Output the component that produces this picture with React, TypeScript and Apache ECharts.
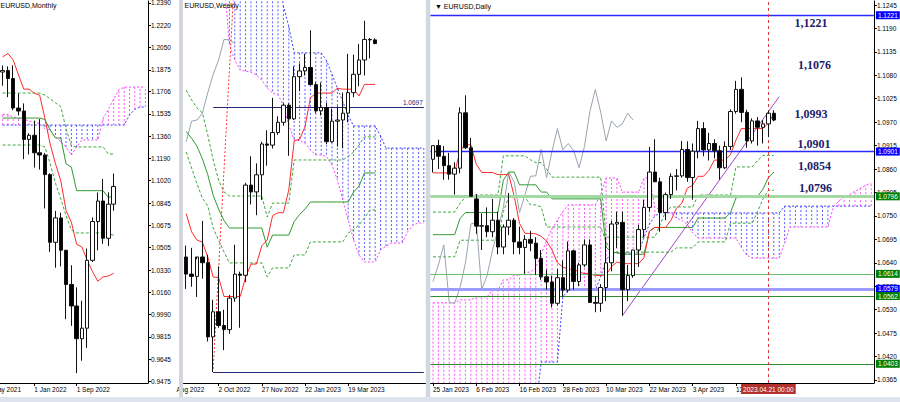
import { useEffect, useRef } from 'react';
import * as echarts from 'echarts';

const SANS = '"Liberation Sans", Arial, "DejaVu Sans", sans-serif';
const SERIF = '"Liberation Serif", "Times New Roman", serif';

// ================= MONTHLY =================
const monthlyCategories = ['1 Jul 2021','1 Aug 2021','1 Sep 2021','1 Oct 2021','1 Nov 2021','1 Dec 2021','1 Jan 2022','1 Feb 2022','1 Mar 2022','1 Apr 2022','1 May 2022','1 Jun 2022','1 Jul 2022','1 Aug 2022','1 Sep 2022','1 Oct 2022','1 Nov 2022','1 Dec 2022','1 Jan 2023','1 Feb 2023','1 Mar 2023','1 Apr 2023','1 May 2023','1 Jun 2023','1 Jul 2023','1 Aug 2023','1 Sep 2023','1 Oct 2023'];
const monthlyLabelIndex = [6, 14];
// [open, high, low, close]
const monthlyOHLC = [
  [1.1858,1.1909,1.1752,1.1870],[1.1870,1.1901,1.1664,1.1808],[1.1808,1.1909,1.1563,1.1580],[1.1580,1.1692,1.1524,1.1557],
  [1.1557,1.1616,1.1186,1.1338],[1.1338,1.1386,1.1222,1.1370],[1.1370,1.1483,1.1121,1.1235],[1.1235,1.1495,1.1106,1.1218],
  [1.1218,1.1233,1.0806,1.1067],[1.1067,1.1076,1.0471,1.0545],[1.0545,1.0787,1.0349,1.0733],[1.0733,1.0773,1.0359,1.0484],
  [1.0484,1.0486,0.9952,1.0220],[1.0220,1.0368,0.9901,1.0054],[1.0054,1.0198,0.9536,0.9802],[0.9802,1.0094,0.9632,0.9883],
  [0.9883,1.0497,0.9731,1.0406],[1.0406,1.0736,1.0393,1.0705],[1.0705,1.0929,1.0483,1.0863],[1.0863,1.1033,1.0533,1.0576],
  [1.0576,1.0930,1.0516,1.0839],[1.0839,1.1075,1.0788,1.0975]
];
const monthlyTenkan = [1.1975,1.2000,1.1950,1.1835,1.1726,1.1726,1.1694,1.1680,1.1500,1.1300,1.1150,1.1020,1.0790,1.0700,1.0530,1.0509,1.0405,1.0320,1.0245,1.0278,1.0285,1.0306];
const monthlyKijun = [1.1503,1.1503,1.1503,1.1503,1.1503,1.1503,1.1503,1.1503,1.1492,1.1410,1.1349,1.1349,1.1150,1.1125,1.0943,1.0943,1.0943,1.0943,1.0943,1.0943,1.0890,1.0901];
const monthlyDashA = [1.1696,1.1696,1.1696,1.1696,1.1696,1.1696,1.1696,1.1696,1.1680,1.1650,1.1620,1.1590,1.1420,1.1290,1.1280,1.1280,1.1280,1.1280,1.1280,1.1280,1.1226,1.1226];
const monthlyDashB = [1.1295,1.1295,1.1295,1.1295,1.1295,1.1295,1.1295,1.1295,1.1280,1.1150,1.1000,1.0880,1.0750,1.0640,1.0617,1.0617,1.0617,1.0617,1.0617,1.0617,1.0610,1.0600];
const monthlySpanA = [1.1449,1.1449,1.1449,1.1449,1.1449,1.1449,1.1449,1.1449,1.1449,1.1449,1.1449,1.1449,1.1449,1.1449,1.1449,1.1449,1.1449,1.1449,1.1449,1.1449,1.1449,1.1449,1.1449,1.1449,1.1526,1.1570,1.1588,1.1588];
const monthlySpanB = [1.1530,1.1530,1.1510,1.1500,1.1495,1.1480,1.1470,1.1460,1.1420,1.1410,1.1357,1.1320,1.1280,1.1218,1.1280,1.1334,1.1334,1.1334,1.1334,1.1500,1.1570,1.1650,1.1720,1.1742,1.1742,1.1742,1.1742,1.1742];
const monthlyTicks = [0.9475,0.9645,0.9815,0.9990,1.0160,1.0330,1.0505,1.0675,1.0845,1.1020,1.1190,1.1360,1.1535,1.1706,1.1875,1.2050,1.2220,1.2390];
const monthlyPrice = 1.0975;

// ================= WEEKLY =================
const weeklyCategories = ['21 Aug 2022','28 Aug 2022','4 Sep 2022','11 Sep 2022','18 Sep 2022','25 Sep 2022','2 Oct 2022','9 Oct 2022','16 Oct 2022','23 Oct 2022','30 Oct 2022','6 Nov 2022','13 Nov 2022','20 Nov 2022','27 Nov 2022','4 Dec 2022','11 Dec 2022','18 Dec 2022','25 Dec 2022','1 Jan 2023','8 Jan 2023','15 Jan 2023','22 Jan 2023','29 Jan 2023','5 Feb 2023','12 Feb 2023','19 Feb 2023','26 Feb 2023','5 Mar 2023','12 Mar 2023','19 Mar 2023','26 Mar 2023','2 Apr 2023','9 Apr 2023','16 Apr 2023','23 Apr 2023','30 Apr 2023','7 May 2023','14 May 2023','21 May 2023','28 May 2023','4 Jun 2023','11 Jun 2023','18 Jun 2023','25 Jun 2023'];
const weeklyLabelIndex = [6, 14, 22, 30];
const weeklyOHLC = [
  [1.0040,1.0090,0.9900,0.9965],[0.9965,1.0080,0.9910,0.9955],[0.9955,1.0030,0.9865,1.0040],[1.0040,1.0198,0.9945,1.0015],
  [1.0015,1.0050,0.9670,0.9690],[0.9690,0.9853,0.9536,0.9800],[0.9800,0.9999,0.9730,0.9740],[0.9740,0.9809,0.9632,0.9722],
  [0.9722,0.9874,0.9704,0.9860],[0.9860,1.0094,0.9844,0.9965],[0.9965,0.9976,0.9730,0.9960],[0.9960,1.0365,0.9930,1.0355],
  [1.0355,1.0481,1.0270,1.0325],[1.0325,1.0450,1.0223,1.0400],[1.0400,1.0545,1.0290,1.0535],[1.0535,1.0595,1.0440,1.0530],
  [1.0530,1.0737,1.0515,1.0585],[1.0585,1.0656,1.0575,1.0630],[1.0630,1.0713,1.0615,1.0705],[1.0705,1.0713,1.0483,1.0645],
  [1.0645,1.0875,1.0640,1.0830],[1.0830,1.0888,1.0766,1.0855],[1.0855,1.0929,1.0835,1.0870],[1.0870,1.1033,1.0800,1.0795],
  [1.0795,1.0805,1.0670,1.0680],[1.0680,1.0804,1.0660,1.0695],[1.0695,1.0715,1.0535,1.0545],[1.0545,1.0690,1.0540,1.0635],
  [1.0635,1.0700,1.0524,1.0640],[1.0640,1.0760,1.0516,1.0670],[1.0670,1.0930,1.0630,1.0760],[1.0760,1.0926,1.0740,1.0840],
  [1.0840,1.0973,1.0788,1.0903],[1.0903,1.1075,1.0835,1.0993],[1.0993,1.0999,1.0910,1.0991],[1.0991,1.0998,1.0972,1.0975]
];
const weeklyTenkan = [1.0230,1.0150,1.0114,1.0105,1.0040,0.9952,0.9950,0.9867,0.9867,0.9867,0.9867,0.9951,1.0009,1.0009,1.0089,1.0114,1.0221,1.0234,1.0234,1.0334,1.0549,1.0556,1.0610,1.0737,1.0758,1.0758,1.0758,1.0758,1.0779,1.0775,1.0775,1.0775,1.0745,1.0796,1.0796,1.0796];
const weeklyKijun = [1.0590,1.0560,1.0525,1.0470,1.0400,1.0310,1.0250,1.0200,1.0167,1.0167,1.0167,1.0167,1.0167,1.0167,1.0167,1.0083,1.0136,1.0136,1.0136,1.0136,1.0195,1.0226,1.0250,1.0281,1.0281,1.0281,1.0281,1.0281,1.0281,1.0281,1.0281,1.0325,1.0350,1.0408,1.0408,1.0408];
const weeklyDashA = [1.0771,1.0728,1.0693,1.0671,1.0574,1.0465,1.0377,1.0325,1.0307,1.0307,1.0307,1.0307,1.0307,1.0307,1.0307,1.0215,1.0276,1.0276,1.0276,1.0276,1.0465,1.0465,1.0465,1.0465,1.0465,1.0465,1.0465,1.0465,1.0465,1.0465,1.0480,1.0500,1.0530,1.0566,1.0566,1.0566];
const weeklyDashB = [1.0500,1.0430,1.0360,1.0298,1.0263,1.0167,1.0114,1.0062,1.0014,1.0014,1.0014,1.0014,1.0014,1.0014,1.0014,0.9953,0.9992,0.9992,0.9992,0.9992,1.0049,1.0049,1.0049,1.0106,1.0106,1.0106,1.0106,1.0106,1.0106,1.0106,1.0145,1.0160,1.0180,1.0210,1.0246,1.0246];
const weeklyChikou = [1.0545,1.0635,1.0640,1.0670,1.0760,1.0840,1.0903,1.0993,1.0991,1.0975];
const weeklySpanA = [1.1300,1.1300,1.1300,1.1300,1.1300,1.1300,1.1300,1.1300,1.1300,1.1300,1.1300,1.1300,1.1300,1.1300,1.1300,1.1300,1.1300,1.1300,1.1140,1.1050,1.0934,1.0934,1.0934,1.0934,1.0934,1.0934,1.0900,1.0840,1.0780,1.0720,1.0660,1.0614,1.0614,1.0614,1.0614,1.0614,1.0570,1.0517,1.0517,1.0517,1.0517,1.0517,1.0517,1.0517,1.0517];
const weeklySpanB = [1.1250,1.1250,1.1250,1.1250,1.1250,1.1250,1.1250,1.1250,1.0969,1.0903,1.0859,1.0854,1.0850,1.0837,1.0815,1.0780,1.0758,1.0750,1.0706,1.0618,1.0552,1.0550,1.0539,1.0509,1.0487,1.0487,1.0480,1.0443,1.0377,1.0290,1.0202,1.0115,1.0049,1.0018,1.0018,1.0018,1.0071,1.0088,1.0101,1.0101,1.0101,1.0150,1.0180,1.0189,1.0189];
const weeklyLevel = 1.0697;
const weeklyLow = 0.9536;
const weeklyLevelFrom = 5;
const weeklyRedLine = [[5, 0.9550], [9, 1.1293]];

// ================= DAILY =================
const dailyCategories = ['25 Jan 2023','26 Jan 2023','27 Jan 2023','30 Jan 2023','31 Jan 2023',
'1 Feb 2023','2 Feb 2023','3 Feb 2023','6 Feb 2023','7 Feb 2023','8 Feb 2023','9 Feb 2023','10 Feb 2023',
'13 Feb 2023','14 Feb 2023','15 Feb 2023','16 Feb 2023','17 Feb 2023','20 Feb 2023','21 Feb 2023','22 Feb 2023','23 Feb 2023','24 Feb 2023','27 Feb 2023','28 Feb 2023',
'1 Mar 2023','2 Mar 2023','3 Mar 2023','6 Mar 2023','7 Mar 2023','8 Mar 2023','9 Mar 2023','10 Mar 2023','13 Mar 2023','14 Mar 2023','15 Mar 2023','16 Mar 2023','17 Mar 2023','20 Mar 2023','21 Mar 2023','22 Mar 2023','23 Mar 2023','24 Mar 2023','27 Mar 2023','28 Mar 2023','29 Mar 2023','30 Mar 2023','31 Mar 2023',
'3 Apr 2023','4 Apr 2023','5 Apr 2023','6 Apr 2023','7 Apr 2023','10 Apr 2023','11 Apr 2023','12 Apr 2023','13 Apr 2023','14 Apr 2023','17 Apr 2023','18 Apr 2023','19 Apr 2023','20 Apr 2023','21 Apr 2023','24 Apr 2023',
'25 Apr 2023','26 Apr 2023','27 Apr 2023','28 Apr 2023','1 May 2023','2 May 2023','3 May 2023','4 May 2023','5 May 2023','8 May 2023','9 May 2023','10 May 2023','11 May 2023','12 May 2023','15 May 2023','16 May 2023','17 May 2023','18 May 2023'];
const dailyLabelIndex = [0, 8, 16, 24, 32, 40, 48, 56];
const dailyOHLC = [
  [1.0883,1.0915,1.0852,1.0915],[1.0915,1.0929,1.0860,1.0890],[1.0890,1.0914,1.0835,1.0868],[1.0868,1.0898,1.0835,1.0848],
  [1.0848,1.0876,1.0800,1.0862],[1.0862,1.1005,1.0850,1.0992],[1.0992,1.1033,1.0907,1.0910],[1.0910,1.0933,1.0796,1.0796],
  [1.0790,1.0801,1.0708,1.0726],[1.0726,1.0756,1.0670,1.0727],[1.0727,1.0770,1.0700,1.0713],[1.0713,1.0790,1.0700,1.0740],
  [1.0740,1.0760,1.0660,1.0677],[1.0677,1.0730,1.0660,1.0724],[1.0724,1.0804,1.0705,1.0740],[1.0740,1.0745,1.0660,1.0689],
  [1.0689,1.0725,1.0660,1.0676],[1.0676,1.0705,1.0614,1.0695],[1.0695,1.0715,1.0667,1.0686],[1.0686,1.0700,1.0612,1.0650],
  [1.0650,1.0670,1.0600,1.0607],[1.0607,1.0624,1.0577,1.0595],[1.0595,1.0610,1.0535,1.0545],[1.0545,1.0625,1.0540,1.0605],
  [1.0605,1.0645,1.0560,1.0576],[1.0576,1.0690,1.0570,1.0668],[1.0668,1.0670,1.0577,1.0596],[1.0596,1.0640,1.0585,1.0635],
  [1.0635,1.0695,1.0630,1.0682],[1.0682,1.0695,1.0547,1.0547],[1.0547,1.0562,1.0524,1.0545],[1.0545,1.0590,1.0525,1.0582],
  [1.0582,1.0700,1.0550,1.0640],[1.0640,1.0738,1.0620,1.0731],[1.0731,1.0760,1.0675,1.0735],[1.0735,1.0760,1.0516,1.0577],
  [1.0577,1.0635,1.0550,1.0610],[1.0610,1.0670,1.0605,1.0670],[1.0670,1.0729,1.0630,1.0718],[1.0718,1.0788,1.0700,1.0770],
  [1.0770,1.0912,1.0760,1.0853],[1.0853,1.0930,1.0830,1.0830],[1.0830,1.0840,1.0713,1.0758],[1.0758,1.0805,1.0740,1.0800],
  [1.0800,1.0850,1.0790,1.0843],[1.0843,1.0860,1.0810,1.0844],[1.0844,1.0926,1.0840,1.0906],[1.0906,1.0925,1.0830,1.0840],
  [1.0840,1.0920,1.0788,1.0902],[1.0902,1.0973,1.0885,1.0955],[1.0955,1.0970,1.0890,1.0905],[1.0905,1.0945,1.0880,1.0920],
  [1.0920,1.0930,1.0885,1.0903],[1.0903,1.0915,1.0835,1.0863],[1.0863,1.0925,1.0860,1.0913],[1.0913,1.1000,1.0905,1.0995],
  [1.0995,1.1067,1.0990,1.1047],[1.1047,1.1075,1.0970,1.0993],[1.0993,1.0999,1.0910,1.0926],[1.0926,1.0979,1.0920,1.0973],
  [1.0973,1.0982,1.0915,1.0958],[1.0958,1.0975,1.0920,1.0966],[1.0966,1.0997,1.0935,1.0991],[1.0991,1.0998,1.0972,1.0975]
];
const dailyTenkan = [1.0851,1.0851,1.0851,1.0851,1.0851,1.0903,1.0917,1.0917,1.0871,1.0852,
  1.0852,1.0852,1.0847,1.0847,1.0847,1.0797,1.0732,1.0709,1.0709,1.0708,
  1.0702,1.0691,1.0670,1.0640,1.0630,1.0625,1.0625,1.0618,1.0615,1.0615,
  1.0610,1.0610,1.0612,1.0631,1.0642,1.0638,1.0638,1.0638,1.0638,1.0652,
  1.0714,1.0723,1.0723,1.0723,1.0740,1.0768,1.0780,1.0815,1.0822,1.0843,
  1.0843,1.0857,1.0881,1.0881,1.0881,1.0894,1.0928,1.0955,1.0955,1.0955,
  1.0955,1.0955,1.0968,1.0990];
const dailyKijun = [1.0706,1.0706,1.0706,1.0706,1.0706,1.0744,1.0758,1.0758,1.0758,1.0758,
  1.0758,1.0758,1.0758,1.0834,1.0853,1.0853,1.0823,1.0823,1.0823,1.0823,
  1.0806,1.0806,1.0790,1.0790,1.0790,1.0790,1.0790,1.0790,1.0790,1.0790,
  1.0790,1.0790,1.0677,1.0664,1.0664,1.0660,1.0660,1.0660,1.0660,1.0660,
  1.0714,1.0723,1.0723,1.0723,1.0723,1.0723,1.0723,1.0723,1.0723,1.0745,
  1.0745,1.0745,1.0745,1.0745,1.0745,1.0758,1.0792,1.0796,1.0796,1.0796,
  1.0796,1.0813,1.0840,1.0853];
const dailyDashA = [1.0759,1.0759,1.0759,1.0759,1.0759,1.0780,1.0794,1.0799,1.0799,1.0799,
  1.0799,1.0799,1.0799,1.0891,1.0891,1.0891,1.0891,1.0891,1.0882,1.0875,
  1.0875,1.0860,1.0841,1.0841,1.0841,1.0841,1.0841,1.0841,1.0841,1.0841,
  1.0841,1.0841,1.0700,1.0700,1.0700,1.0700,1.0700,1.0700,1.0700,1.0700,
  1.0700,1.0700,1.0730,1.0760,1.0771,1.0771,1.0771,1.0771,1.0771,1.0799,
  1.0799,1.0799,1.0799,1.0799,1.0799,1.0799,1.0865,1.0865,1.0865,1.0865,
  1.0880,1.0892,1.0892,1.0892];
const dailyDashB = [1.0654,1.0654,1.0654,1.0654,1.0654,1.0693,1.0693,1.0693,1.0693,1.0693,
  1.0693,1.0693,1.0693,1.0760,1.0794,1.0794,1.0794,1.0794,1.0776,1.0776,
  1.0771,1.0724,1.0724,1.0724,1.0724,1.0724,1.0724,1.0724,1.0724,1.0724,
  1.0724,1.0724,1.0690,1.0665,1.0665,1.0665,1.0665,1.0665,1.0665,1.0665,
  1.0665,1.0665,1.0665,1.0665,1.0665,1.0675,1.0675,1.0675,1.0675,1.0689,
  1.0689,1.0689,1.0689,1.0689,1.0689,1.0733,1.0733,1.0733,1.0733,1.0733,
  1.0760,1.0790,1.0810,1.0810];
const dailyChikou = [1.0596,1.0635,1.0682,1.0547,1.0545,1.0582,1.0640,1.0731,1.0735,1.0577,1.0610,1.0670,1.0718,1.0770,1.0853,1.0830,1.0758,1.0800,1.0843,1.0844,1.0906,1.0840,1.0902,1.0955,1.0905,1.0920,1.0903,1.0863,1.0913,1.0995,1.1047,1.0993,1.0926,1.0973,1.0958,1.0966,1.0991,1.0975];
const dailySpanA = [1.0300,1.0300,1.0300,1.0300,1.0300,1.0300,1.0300,1.0300,1.0300,1.0300,
  1.0300,1.0300,1.0300,1.0300,1.0300,1.0300,1.0300,1.0300,1.0300,1.0300,
  1.0407,1.0407,1.0407,1.0407,1.0560,1.0576,1.0576,1.0576,1.0576,1.0576,
  1.0576,1.0607,1.0647,1.0663,1.0663,1.0663,1.0663,1.0663,1.0663,1.0700,
  1.0730,1.0750,1.0757,1.0757,1.0757,1.0757,1.0757,1.0757,1.0757,1.0757,
  1.0757,1.0757,1.0757,1.0757,1.0757,1.0757,1.0757,1.0757,1.0757,1.0757,
  1.0757,1.0757,1.0757,1.0757,1.0757,1.0773,1.0773,1.0773,1.0773,1.0773,
  1.0773,1.0773,1.0773,1.0773,1.0773,1.0773,1.0773,1.0773,1.0773,1.0773,
  1.0773,1.0773];
const dailySpanB = [1.0546,1.0546,1.0546,1.0546,1.0546,1.0553,1.0553,1.0553,1.0560,1.0560,
  1.0560,1.0576,1.0576,1.0600,1.0600,1.0611,1.0611,1.0618,1.0618,1.0628,
  1.0660,1.0693,1.0720,1.0740,1.0760,1.0776,1.0776,1.0776,1.0776,1.0776,
  1.0776,1.0800,1.0839,1.0839,1.0839,1.0806,1.0806,1.0806,1.0806,1.0839,
  1.0839,1.0770,1.0764,1.0760,1.0757,1.0745,1.0740,1.0730,1.0710,1.0698,
  1.0698,1.0698,1.0698,1.0698,1.0698,1.0698,1.0698,1.0676,1.0658,1.0651,
  1.0651,1.0651,1.0651,1.0651,1.0651,1.0686,1.0724,1.0724,1.0724,1.0724,
  1.0724,1.0724,1.0724,1.0724,1.0771,1.0785,1.0795,1.0800,1.0808,1.0815,
  1.0822,1.0827];
const dailyTicks = [1.0365,1.0420,1.0475,1.0530,1.0585,1.0640,1.0695,1.0750,1.0805,1.0860,1.0915,1.0970,1.1025,1.1080,1.1135,1.1190,1.1245];
const dailyLevels = [1.1221, 1.0901, 1.0796, 1.0614, 1.0579, 1.0562, 1.0403];
const dailyPrice = 1.0975;
const dailyTrend = [[35, 1.0516], [64, 1.1030]];
const dailyCursorIndex = 62;
const dailyCursorText = '2023.04.21 00:00';
const dailyNotes = ['1,1221', '1,1076', '1,0993', '1,0901', '1,0854', '1,0796'];

// styles of the daily levels (same order as dailyLevels)
const levelStyle = [
  { line: '#2a2aff', width: 1.3, box: '#0000ff' },
  { line: '#2a2aff', width: 1.3, box: '#0000ff' },
  { line: '#a3d9a3', width: 3, box: '#008000' },
  { line: '#6cbf6c', width: 1, box: '#008000' },
  { line: '#9c9cff', width: 3, box: '#0000ff' },
  { line: '#2e8b2e', width: 1, box: '#008000' },
  { line: '#2e8b2e', width: 1, box: '#008000' },
];

const BLUE = '#3a3aff';
const MAGENTA = '#ff3cff';
const RED = '#ff2a2a';
const GREEN = '#2f9a2f';
const DGREEN = '#3ca63c';
const GRAY = '#9aa4ae';

function lineSeries(data: any[], axis: number, color: string, type: any, width = 1, z = 3) {
  return {
    type: 'line', data, xAxisIndex: axis, yAxisIndex: axis, symbol: 'none', showSymbol: false,
    silent: true, z, clip: true, connectNulls: false,
    lineStyle: { color, width, type },
  };
}

function hatchSeries(axis: number, spanA: number[], spanB: number[]) {
  return {
    type: 'custom', xAxisIndex: axis, yAxisIndex: axis, clip: true, silent: true, z: 1,
    data: spanA.map((a, i) => [i, a, spanB[i]]),
    encode: { x: 0, y: [1, 2] },
    renderItem: (params: any, api: any) => {
      const i = api.value(0);
      const a = api.value(1);
      const b = api.value(2);
      const p1 = api.coord([i, a]);
      const p2 = api.coord([i, b]);
      return {
        type: 'line',
        shape: { x1: p1[0], y1: p1[1], x2: p2[0], y2: p2[1] },
        style: { stroke: a >= b ? '#5a5aff' : '#ff55ff', lineWidth: 1, lineDash: [2, 2] },
      };
    },
  };
}

function candleSeries(axis: number, ohlc: number[][], markLine?: any) {
  return {
    type: 'candlestick', xAxisIndex: axis, yAxisIndex: axis, silent: true, z: 5,
    barWidth: 4,
    data: ohlc.map(([o, h, l, c]) => [o, c, l, h]),
    itemStyle: { color: '#ffffff', color0: '#000000', borderColor: '#111', borderColor0: '#111', borderWidth: 1 },
    markLine,
  };
}

const boxLabel = (bg: string, text: string) => ({
  show: true, position: 'end', distance: 2, color: '#fff', backgroundColor: bg,
  padding: [1, 2, 0, 2], fontSize: 6.5, fontFamily: SANS,
  formatter: text,
});

function catAxis(grid: number, data: string[], labelIdx: number[]) {
  const show = (i: number) => labelIdx.indexOf(i) >= 0;
  return {
    type: 'category', gridIndex: grid, data, boundaryGap: true,
    axisLine: { show: true, lineStyle: { color: '#000', width: 1 } },
    axisTick: { show: true, alignWithLabel: true, length: 3, interval: (i: number) => show(i), lineStyle: { color: '#000' } },
    axisLabel: { show: true, interval: (i: number) => show(i), align: 'left', margin: 3, fontSize: 6.5, color: '#000', fontFamily: SANS },
    splitLine: { show: false },
  };
}

function valAxis(grid: number, min: number, max: number, ticks: number[] | null) {
  if (!ticks) {
    return { type: 'value', gridIndex: grid, min, max, show: false, splitLine: { show: false } };
  }
  return {
    type: 'value', gridIndex: grid, min, max, position: 'right', scale: true,
    axisLine: { show: true, lineStyle: { color: '#000', width: 1 } },
    axisTick: { show: true, length: 3, customValues: ticks, lineStyle: { color: '#000' } },
    axisLabel: { show: true, customValues: ticks, margin: 3, fontSize: 6.5, color: '#000', fontFamily: SANS,
      formatter: (v: number) => Number(v).toFixed(4) },
    splitLine: { show: false },
  };
}

function buildOption() {
  const monthlyMark = {
    symbol: ['none', 'none'], silent: true, animation: false, precision: 4,
    data: [{ yAxis: monthlyPrice, lineStyle: { opacity: 0 }, label: boxLabel('#000000', monthlyPrice.toFixed(4)) }],
  };
  const weeklyMark = {
    symbol: ['none', 'none'], silent: true, animation: false, precision: 4,
    label: { show: false },
    data: [
      [
        { coord: [weeklyCategories[weeklyLevelFrom], weeklyLevel], lineStyle: { color: '#26267a', width: 1, type: 'solid' },
          label: { show: true, position: 'insideEndTop', distance: 1, formatter: weeklyLevel.toFixed(4), color: '#26267a', fontSize: 6.5, fontFamily: SANS } },
        { coord: [weeklyCategories[weeklyCategories.length - 1], weeklyLevel] },
      ],
      [
        { coord: [weeklyCategories[weeklyLevelFrom], weeklyLow], lineStyle: { color: '#26267a', width: 1, type: 'solid' } },
        { coord: [weeklyCategories[weeklyCategories.length - 1], weeklyLow] },
      ],
    ],
  };
  const dailyMarkData: any[] = dailyLevels.map((v, k) => ({
    yAxis: v,
    lineStyle: { color: levelStyle[k].line, width: levelStyle[k].width, type: 'solid', opacity: 1 },
    label: boxLabel(levelStyle[k].box, v.toFixed(4)),
  }));
  dailyMarkData.push({ yAxis: dailyPrice, lineStyle: { opacity: 0 }, label: boxLabel('#000000', dailyPrice.toFixed(4)) });
  dailyMarkData.push({
    xAxis: dailyCategories[dailyCursorIndex],
    lineStyle: { color: '#e03a3a', width: 1, type: [3, 3] },
    label: { show: true, position: 'start', distance: 1, formatter: dailyCursorText, color: '#fff', backgroundColor: '#b3312c',
      padding: [2, 2, 1, 2], fontSize: 6.5, fontFamily: SANS },
  });
  const dailyMark = { symbol: ['none', 'none'], silent: true, animation: false, precision: 4, data: dailyMarkData };

  const noteY = [23, 65, 114, 144, 166, 188];
  const noteX = [811, 814.5, 811, 814, 814.5, 815.5];

  return {
    animation: false,
    backgroundColor: '#ffffff',
    grid: [
      { left: 0, top: 1, width: 148, height: 382, containLabel: false, outerBoundsMode: 'none' },
      { left: 183.5, top: 1, width: 243, height: 382, containLabel: false, outerBoundsMode: 'none' },
      { left: 430.3, top: 1, width: 443.6, height: 382, containLabel: false, outerBoundsMode: 'none' },
    ],
    xAxis: [
      catAxis(0, monthlyCategories, monthlyLabelIndex),
      catAxis(1, weeklyCategories, weeklyLabelIndex),
      catAxis(2, dailyCategories, dailyLabelIndex),
    ],
    yAxis: [
      valAxis(0, 0.94602, 1.24054, monthlyTicks),
      valAxis(1, 0.94881, 1.11613, null),
      valAxis(2, 1.03579, 1.12544, dailyTicks),
    ],
    series: [
      // monthly
      hatchSeries(0, monthlySpanA, monthlySpanB),
      lineSeries(monthlySpanA, 0, BLUE, [2, 2]),
      lineSeries(monthlySpanB, 0, MAGENTA, [2, 2]),
      lineSeries(monthlyDashA, 0, DGREEN, [3, 2]),
      lineSeries(monthlyDashB, 0, DGREEN, [3, 2]),
      lineSeries(monthlyKijun, 0, GREEN, 'solid'),
      lineSeries(monthlyTenkan, 0, RED, 'solid'),
      candleSeries(0, monthlyOHLC, monthlyMark),
      // weekly
      hatchSeries(1, weeklySpanA, weeklySpanB),
      lineSeries(weeklySpanA, 1, BLUE, [2, 2]),
      lineSeries(weeklySpanB, 1, MAGENTA, [2, 2]),
      lineSeries(weeklyDashA, 1, DGREEN, [3, 2]),
      lineSeries(weeklyDashB, 1, DGREEN, [3, 2]),
      lineSeries(weeklyChikou, 1, GRAY, 'solid'),
      lineSeries(weeklyKijun, 1, GREEN, 'solid'),
      lineSeries(weeklyTenkan, 1, RED, 'solid'),
      lineSeries(weeklyRedLine.map(([i, v]) => [weeklyCategories[i], v]), 1, '#ff3030', [2, 2]),
      candleSeries(1, weeklyOHLC, weeklyMark),
      // daily
      hatchSeries(2, dailySpanA, dailySpanB),
      lineSeries(dailySpanA, 2, BLUE, [2, 2]),
      lineSeries(dailySpanB, 2, MAGENTA, [2, 2]),
      lineSeries(dailyDashA, 2, DGREEN, [3, 2]),
      lineSeries(dailyDashB, 2, DGREEN, [3, 2]),
      lineSeries(dailyChikou, 2, GRAY, 'solid'),
      lineSeries(dailyKijun, 2, GREEN, 'solid'),
      lineSeries(dailyTenkan, 2, RED, 'solid'),
      lineSeries(dailyTrend.map(([i, v]) => [dailyCategories[i], v]), 2, '#a347c8', 'solid'),
      candleSeries(2, dailyOHLC, dailyMark),
    ],
    graphic: [
      { type: 'text', x: -7.5, y: 389.5, z: 50, style: { text: 'May 2021', fontSize: 6.5, fontFamily: SANS, fill: '#000', align: 'left', verticalAlign: 'middle' } },
      { type: 'text', x: 176.5, y: 389.5, z: 50, style: { text: 'Aug 2022', fontSize: 6.5, fontFamily: SANS, fill: '#000', align: 'left', verticalAlign: 'middle' } },
      { type: 'rect', z: 100, shape: { x: 179, y: 0, width: 4, height: 397 }, style: { fill: '#d3d8df' } },
      { type: 'rect', z: 100, shape: { x: 425.8, y: 0, width: 4.5, height: 397 }, style: { fill: '#d3d8df' } },
      { type: 'rect', z: 100, shape: { x: 0, y: 397, width: 900, height: 5 }, style: { fill: '#dde4ed' } },
      { type: 'text', x: 0.5, y: 5.5, z: 60, style: { text: 'EURUSD,Monthly', fontSize: 7, fontFamily: SANS, fill: '#000', align: 'left', verticalAlign: 'middle' } },
      { type: 'text', x: 184.5, y: 5.5, z: 60, style: { text: 'EURUSD,Weekly', fontSize: 7, fontFamily: SANS, fill: '#000', align: 'left', verticalAlign: 'middle' } },
      { type: 'text', x: 435, y: 6, z: 60, style: { text: '▼ EURUSD,Daily', fontSize: 7, fontFamily: SANS, fill: '#000', align: 'left', verticalAlign: 'middle' } },
      ...dailyNotes.map((t, k) => ({
        type: 'text', x: noteX[k], y: noteY[k], z: 60,
        style: { text: t, fontSize: 12, fontWeight: 'bold', fontFamily: SERIF, fill: '#1d1d6b', align: 'center', verticalAlign: 'middle' },
      })),
    ],
  };
}

export default function App() {
  const ref = useRef<HTMLDivElement>(null);
  useEffect(() => {
    const chart = echarts.init(ref.current as HTMLDivElement, null, { renderer: 'svg' });
    chart.setOption(buildOption() as any);
    return () => chart.dispose();
  }, []);
  return (
    <div
      ref={ref}
      style={{ position: 'fixed', left: 0, top: 0, width: 900, height: 402, background: '#ffffff' }}
    />
  );
}
